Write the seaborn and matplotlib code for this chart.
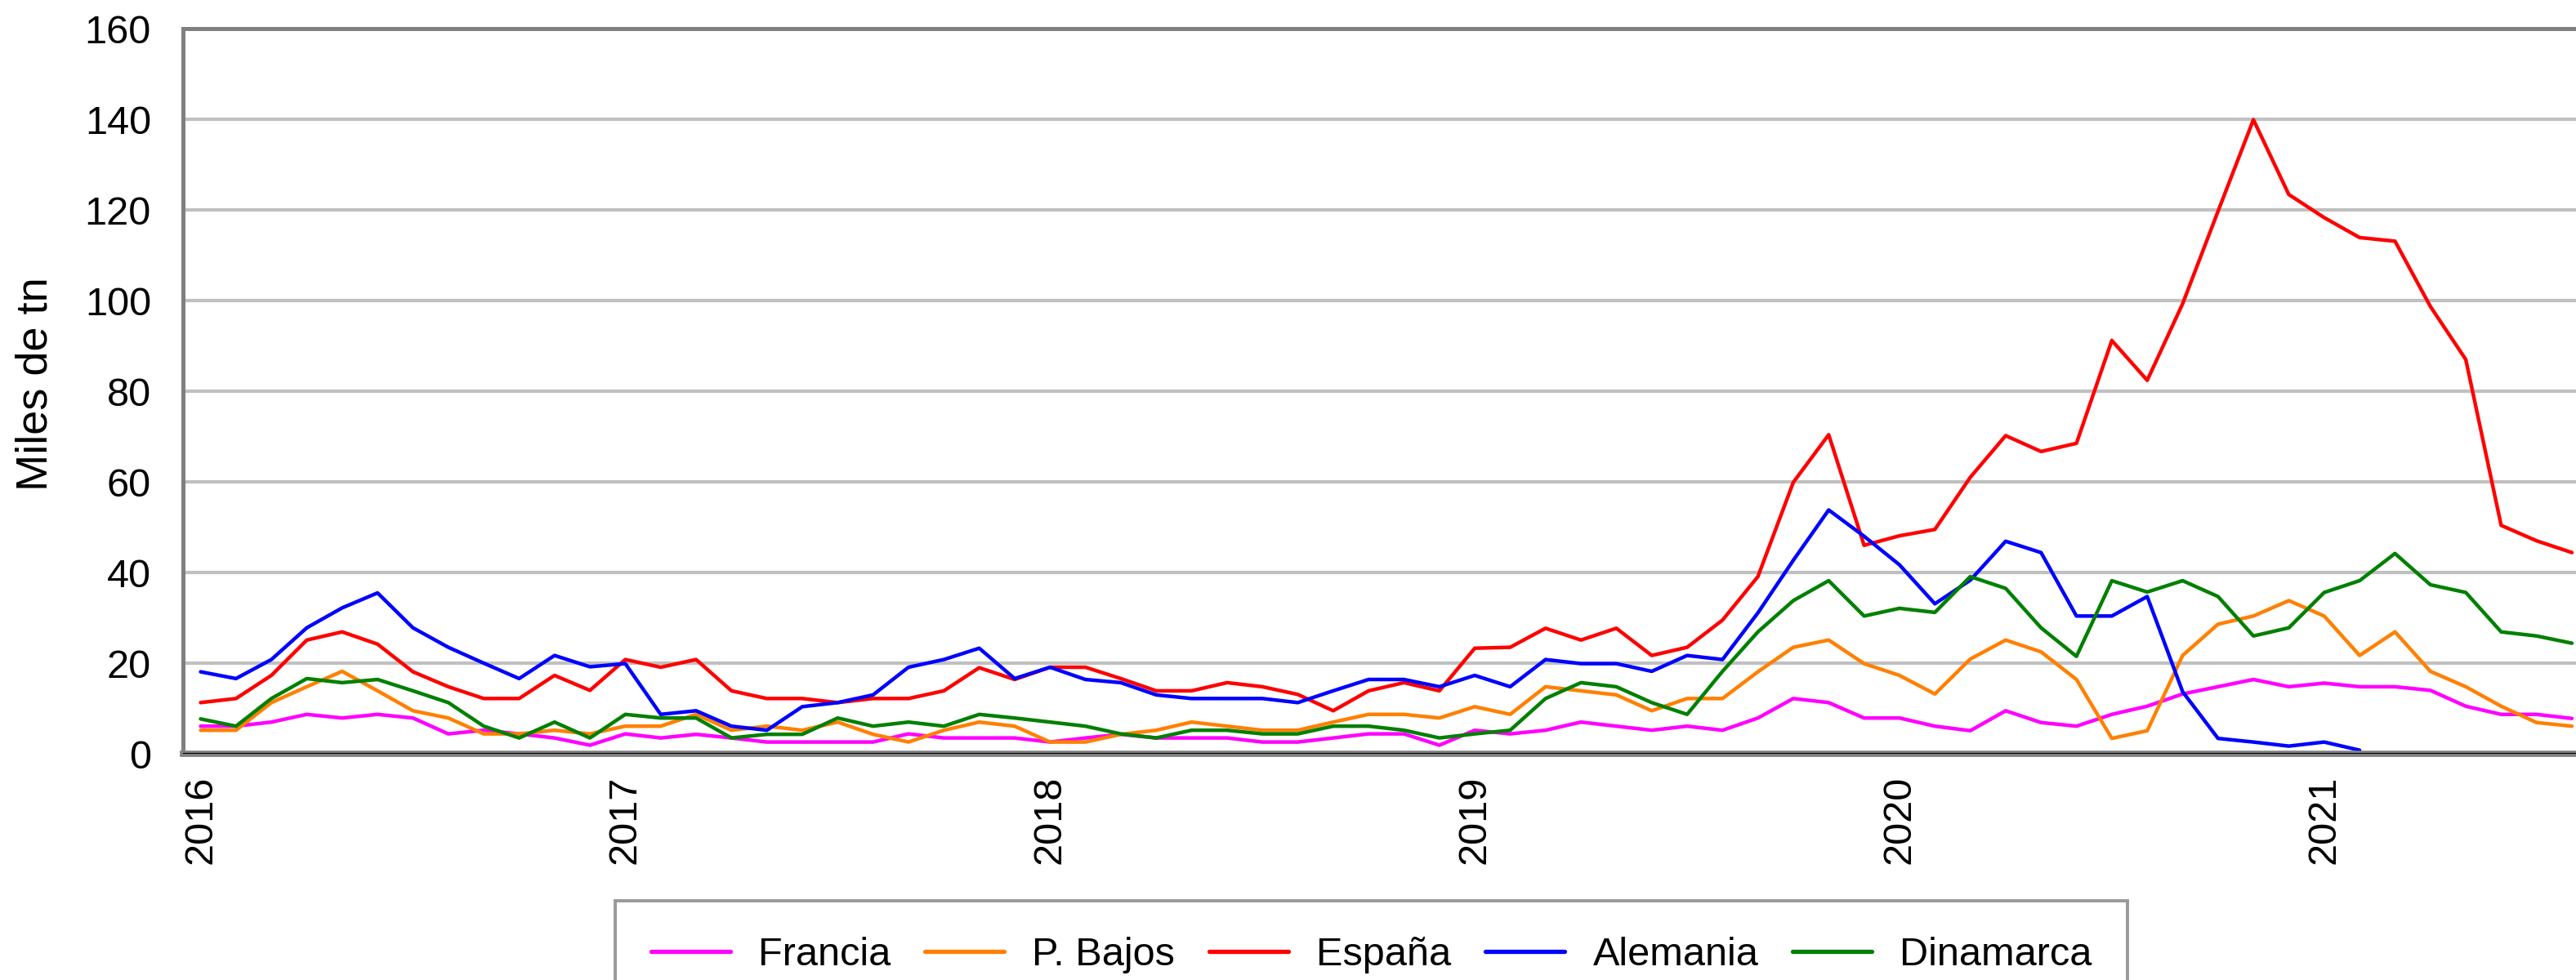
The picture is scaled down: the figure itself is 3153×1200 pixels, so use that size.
import numpy as np
import pandas as pd
import seaborn as sns
import matplotlib.pyplot as plt

# Monthly series, Jan 2016 - Aug 2021 (miles de tn)
years = ['2016', '2017', '2018', '2019', '2020', '2021']

francia = [6.1, 6.1, 7.0, 8.7, 7.9, 8.7, 7.9, 4.4, 5.2, 4.4, 3.5, 1.9,
           4.4, 3.5, 4.3, 3.5, 2.6, 2.6, 2.6, 2.6, 4.4, 3.5, 3.5, 3.5,
           2.6, 3.5, 4.3, 3.5, 3.5, 3.5, 2.6, 2.6, 3.5, 4.4, 4.4, 1.9,
           5.2, 4.4, 5.2, 7.0, 6.1, 5.2, 6.1, 5.2, 7.9, 12.2, 11.3, 7.9,
           7.9, 6.1, 5.1, 9.5, 6.9, 6.1, 8.7, 10.5, 13.2, 14.8, 16.4, 14.8,
           15.6, 14.8, 14.8, 14.0, 10.5, 8.7, 8.7, 7.8]

p_bajos = [5.2, 5.2, 11.3, 14.8, 18.2, 13.9, 9.5, 7.9, 4.4, 4.4, 5.2, 4.4,
           6.1, 6.1, 8.7, 5.2, 6.1, 5.2, 7.0, 4.3, 2.6, 5.2, 7.0, 6.1,
           2.6, 2.6, 4.3, 5.2, 7.0, 6.1, 5.2, 5.2, 7.0, 8.7, 8.7, 7.9,
           10.4, 8.7, 14.8, 13.9, 13.0, 9.5, 12.2, 12.2, 18.1, 23.5, 25.1, 19.9,
           17.3, 13.2, 20.9, 25.1, 22.5, 16.4, 3.4, 5.1, 21.7, 28.6, 30.4, 33.8,
           30.4, 21.7, 26.9, 18.2, 14.8, 10.5, 6.9, 6.1]

espana = [11.3, 12.2, 17.3, 25.1, 26.9, 24.2, 18.1, 14.8, 12.2, 12.2, 17.3, 14.0,
          20.8, 19.1, 20.8, 13.9, 12.2, 12.2, 11.3, 12.2, 12.2, 13.9, 19.0, 16.4,
          19.1, 19.1, 16.6, 13.9, 13.9, 15.7, 14.8, 13.1, 9.5, 13.9, 15.7, 13.9,
          23.3, 23.5, 27.7, 25.1, 27.7, 21.7, 23.5, 29.5, 39.1, 59.9, 70.4, 46.0,
          48.1, 49.5, 61.0, 70.2, 66.7, 68.5, 91.2, 82.4, 99.3, 119.7, 139.9, 123.4,
          118.3, 113.9, 113.1, 98.7, 87.0, 50.4, 47.0, 44.4]

alemania = [18.1, 16.6, 20.8, 27.8, 32.2, 35.5, 27.8, 23.5, 20.0, 16.6, 21.7, 19.2,
            19.9, 8.7, 9.5, 6.1, 5.2, 10.4, 11.3, 13.0, 19.1, 20.8, 23.3, 16.6,
            19.1, 16.4, 15.7, 13.0, 12.2, 12.2, 12.2, 11.3, 13.9, 16.4, 16.4, 14.8,
            17.3, 14.8, 20.8, 19.9, 19.9, 18.2, 21.7, 20.8, 31.1, 42.7, 53.8, 48.0,
            41.7, 33.1, 38.3, 46.9, 44.4, 30.4, 30.4, 34.7, 13.7, 3.4, 2.6, 1.7,
            2.6, 0.8, np.nan, np.nan, np.nan, np.nan, np.nan, np.nan]

dinamarca = [7.7, 6.1, 12.2, 16.6, 15.7, 16.4, 13.9, 11.3, 6.1, 3.5, 7.0, 3.5,
             8.7, 7.9, 7.9, 3.5, 4.3, 4.3, 7.9, 6.1, 7.0, 6.1, 8.7, 7.9,
             7.0, 6.1, 4.4, 3.5, 5.2, 5.2, 4.4, 4.4, 6.1, 6.1, 5.2, 3.5,
             4.4, 5.2, 12.2, 15.7, 14.8, 11.3, 8.7, 18.2, 26.9, 33.8, 38.2, 30.4,
             32.1, 31.2, 39.1, 36.5, 27.8, 21.5, 38.2, 35.7, 38.2, 34.7, 26.0, 27.8,
             35.6, 38.2, 44.2, 37.3, 35.6, 26.9, 26.0, 24.4]

countries = ['Francia', 'P. Bajos', 'España', 'Alemania', 'Dinamarca']
colors = ['#FF00FF', '#FF8000', '#FF0000', '#0000FF', '#008000']

series = [francia, p_bajos, espana, alemania, dinamarca]
frames = []
for name, values in zip(countries, series):
    frames.append(pd.DataFrame({'mes': np.arange(len(values)),
                                'valor': values,
                                'pais': name}))
df = pd.concat(frames, ignore_index=True).dropna()

sns.set_style('white')
plt.rcParams['font.family'] = ['Liberation Sans', 'DejaVu Sans']
plt.rcParams['text.color'] = 'black'
plt.rcParams['axes.labelcolor'] = 'black'
plt.rcParams['xtick.color'] = 'black'
plt.rcParams['ytick.color'] = 'black'

fig, ax = plt.subplots(figsize=(31.53, 12), dpi=100)
# axes runs past the right edge of the picture, like the cropped original
ax.set_position([0.0710, 0.2308, 0.9343, 0.7400])

sns.lineplot(data=df, x='mes', y='valor', hue='pais', hue_order=countries,
             palette=dict(zip(countries, colors)), estimator=None, sort=False,
             linewidth=3.2, ax=ax)

ax.set_xlim(-0.5, 67.5)
ax.set_ylim(0, 160)
ax.set_yticks(range(0, 161, 20))
ax.set_xticks([0, 12, 24, 36, 48, 60])
ax.set_xticklabels(years, rotation=90)
ax.tick_params(axis='y', length=0, pad=28, labelsize=35, labelcolor='black')
ax.tick_params(axis='x', length=0, pad=19, labelsize=35, labelcolor='black')
ax.set_xlabel('')
ax.set_ylabel('Miles de tn', fontsize=39, color='black')
ax.yaxis.set_label_coords(-0.0526, 0.51)

ax.grid(axis='y', color='#C0C0C0', linewidth=3.0)
ax.set_axisbelow(True)
for side in ['left', 'top', 'right']:
    ax.spines[side].set_color('#808080')
    ax.spines[side].set_linewidth(3.6)
ax.spines['bottom'].set_color('#808080')
ax.spines['bottom'].set_linewidth(5.5)
ax.axhline(0, color='black', linewidth=2.2, zorder=3)

handles, labels = ax.get_legend_handles_labels()
ax.get_legend().remove()
leg = fig.legend(handles, labels, loc='upper left',
                 bbox_to_anchor=(753 / 3153, 1 - 1103 / 1200),
                 ncol=5, fontsize=35, frameon=True, fancybox=False,
                 edgecolor='#808080', handlelength=2.0, handletextpad=0.7,
                 columnspacing=0.86, borderpad=0.9, borderaxespad=0)
leg.get_frame().set_linewidth(2.8)
for line in leg.get_lines():
    line.set_linewidth(3.8)

plt.savefig('out.png', dpi=100)
